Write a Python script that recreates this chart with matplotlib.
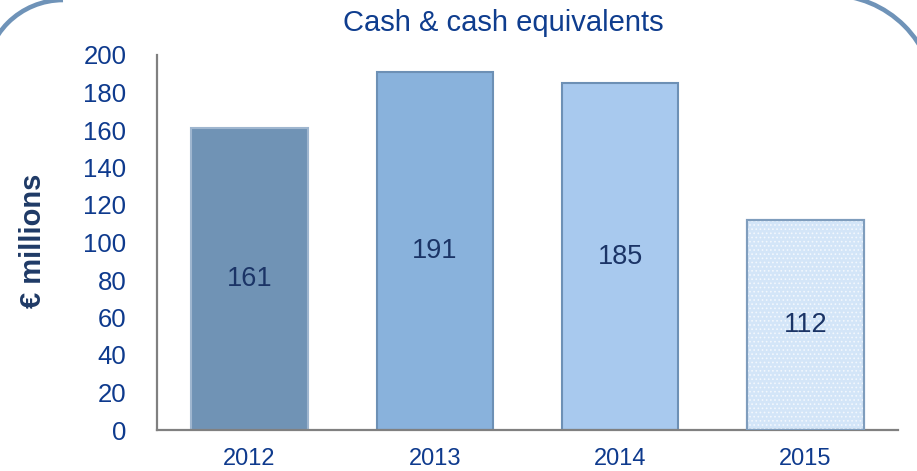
import matplotlib
matplotlib.use("Agg")
import matplotlib.pyplot as plt
from matplotlib.patches import Arc
from matplotlib.transforms import IdentityTransform

# Cash & cash equivalents by year (EUR millions)
years = ["2012", "2013", "2014", "2015"]
cash = [161, 191, 185, 112]
y_ticks = [0, 20, 40, 60, 80, 100, 120, 140, 160, 180, 200]

fill_colors = ["#7093b5", "#89b2dc", "#a8c9ee", "#d3e5f8"]
edge_colors = ["#9fb6cf", "#6d90b5", "#6d90b5", "#7f9dbd"]

plt.rcParams["font.family"] = ["Liberation Sans", "DejaVu Sans"]
plt.rcParams["hatch.color"] = "#f2f7fd"
plt.rcParams["hatch.linewidth"] = 0.7

W, H = 917, 471
fig = plt.figure(figsize=(W / 100, H / 100), dpi=100)
ax = fig.add_axes([157 / W, 1 - 430 / H, (898 - 157) / W, (430 - 55) / H])

x = list(range(len(years)))
ax.bar(x, cash, width=0.63, color=fill_colors, edgecolor=edge_colors,
       linewidth=1.5, zorder=2)
# fine dotted texture on the last bar
ax.bar([x[-1]], [cash[-1]], width=0.63, facecolor="none", edgecolor="#f2f7fd",
       linewidth=0, hatch="....", zorder=3)
ax.bar([x[-1]], [cash[-1]], width=0.63, facecolor="none",
       edgecolor=edge_colors[-1], linewidth=1.5, zorder=4)

for xi, v in zip(x, cash):
    ax.text(xi, v / 2, str(v), ha="center", va="center", fontsize=19.5,
            color="#1b3466", zorder=5)

ax.set_xlim(-0.5, 3.5)
ax.set_ylim(0, 200)
ax.set_yticks(y_ticks)
ax.set_xticks(x)
ax.set_xticklabels(years)
ax.tick_params(axis="y", length=0, pad=22, labelsize=18.5, labelcolor="#0e3a8d")
ax.tick_params(axis="x", length=0, pad=13, labelsize=17, labelcolor="#0e3a8d")
for side in ("top", "right"):
    ax.spines[side].set_visible(False)
for side in ("left", "bottom"):
    ax.spines[side].set_color("#808080")
    ax.spines[side].set_linewidth(1.6)

fig.text(33 / W, 1 - 241 / H, "€ millions", rotation=90, ha="center",
         va="center", fontsize=21, fontweight="bold", color="#1f3a66")
fig.text(503 / W, 1 - 23 / H, "Cash & cash equivalents", ha="center",
         va="center", fontsize=21, color="#0f3d8e")

# rounded frame corners
frame = "#6f93b8"
fig.add_artist(Arc((63, H - 78), 156, 156, theta1=90, theta2=180,
                   transform=IdentityTransform(), color=frame, linewidth=3.3))
fig.add_artist(Arc((830, H - 100), 210, 210, theta1=0, theta2=90,
                   transform=IdentityTransform(), color=frame, linewidth=3.3))

fig.savefig("out.png", dpi=100)
